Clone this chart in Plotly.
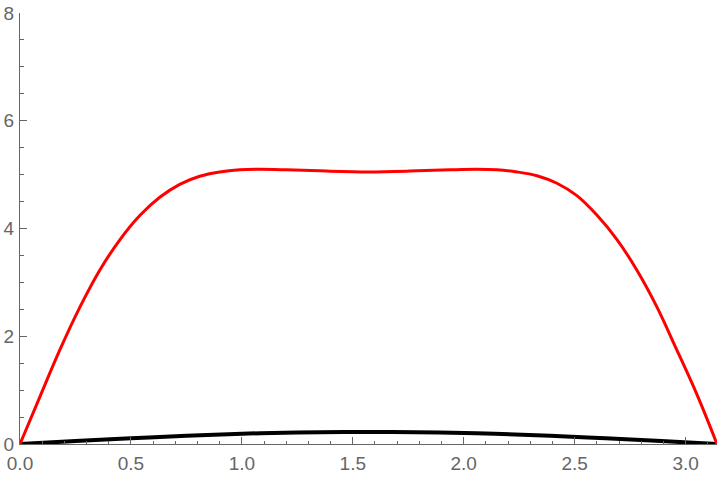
import math
import plotly.graph_objects as go

# red curve
red_x = [0.0, 0.09, 0.18, 0.27, 0.36, 0.45, 0.54, 0.63, 0.72, 0.81, 0.90, 0.99, 1.08, 1.20, 1.35, 1.571,
         1.79, 1.94, 2.06, 2.15, 2.24, 2.33, 2.42, 2.51, 2.60, 2.69, 2.78, 2.87, 2.96, 3.05, 3.1416]
red_y = [0.0, 0.88, 1.75, 2.54, 3.23, 3.79, 4.24, 4.58, 4.82, 4.97, 5.05, 5.09, 5.10, 5.09, 5.07, 5.05,
         5.07, 5.09, 5.10, 5.09, 5.05, 4.98, 4.84, 4.61, 4.25, 3.80, 3.23, 2.55, 1.75, 0.93, 0.0]

# black curve
black_x = [0.0, 0.25, 0.5, 0.75, 1.0, 1.25, 1.571, 1.89, 2.14, 2.39, 2.64, 2.89, 3.1416]
black_y = [0.0, 0.055, 0.105, 0.155, 0.19, 0.215, 0.225, 0.215, 0.19, 0.155, 0.105, 0.055, 0.0]

axis_grey = "#666666"

fig = go.Figure()
fig.add_trace(go.Scatter(x=black_x, y=black_y, mode="lines",
                         line=dict(color="black", width=4, shape="spline")))
fig.add_trace(go.Scatter(x=red_x, y=red_y, mode="lines",
                         line=dict(color="red", width=3, shape="spline")))

fig.update_layout(
    width=720, height=480,
    margin=dict(l=20, r=3, t=13, b=36),
    plot_bgcolor="white", paper_bgcolor="white",
    showlegend=False,
    font=dict(family="Liberation Sans, Arial", size=19, color=axis_grey),
)
fig.update_xaxes(
    range=[0, math.pi], showgrid=False, zeroline=False, automargin=False,
    showline=True, linecolor=axis_grey, linewidth=1,
    tickvals=[0, 0.5, 1.0, 1.5, 2.0, 2.5, 3.0], ticktext=["0.0", "0.5", "1.0", "1.5", "2.0", "2.5", "3.0"],
    ticks="inside", ticklen=7, tickcolor=axis_grey, ticklabelstandoff=2,
    minor=dict(dtick=0.1, tick0=0, ticks="inside", ticklen=3.5, tickcolor=axis_grey),
)
fig.update_yaxes(
    range=[0, 8], showgrid=False, zeroline=False, automargin=False,
    showline=True, linecolor=axis_grey, linewidth=1,
    tickvals=[0, 2, 4, 6, 8], ticklabelstandoff=1,
    ticks="inside", ticklen=7, tickcolor=axis_grey,
    minor=dict(dtick=0.5, tick0=0, ticks="inside", ticklen=3.5, tickcolor=axis_grey),
)

# drop the browser's default body margin so the figure sits at the window corner
fig.write_html("out.html", config={"displayModeBar": False},
               post_script="document.body.style.margin='0';")
